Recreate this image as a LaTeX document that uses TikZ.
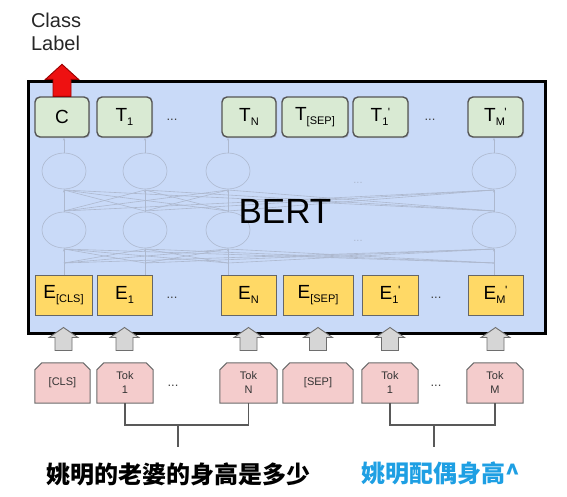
\documentclass[tikz,border=0pt]{standalone}
\usepackage{fontspec}
\setmainfont{Liberation Sans}
\newfontfamily\cjk{Noto Sans CJK SC}
\usetikzlibrary{arrows.meta,shadows,backgrounds}
\definecolor{bertblue}{HTML}{C9DAF8}
\definecolor{tgreen}{HTML}{D9EAD3}
\definecolor{tline}{HTML}{555555}
\definecolor{eyellow}{HTML}{FFD966}
\definecolor{eline}{HTML}{666666}
\definecolor{tokpink}{HTML}{F4CCCC}
\definecolor{tokline}{HTML}{6B6B6B}
\definecolor{netline}{HTML}{ADB8CE}
\definecolor{arrgray}{HTML}{D6D6D6}
\definecolor{arrline}{HTML}{6E6E6E}
\definecolor{arrred}{HTML}{EE1111}
\definecolor{arrredline}{HTML}{9A0000}
\definecolor{qblue}{HTML}{1E9FE3}
\newcommand{\sbx}[1]{\mbox{\fontsize{11}{11}\selectfont #1}}
\newcommand{\lsub}[1]{\raisebox{-4.5pt}{\sbx{#1}}}
\newcommand{\lsubp}[1]{\raisebox{-4.5pt}{\sbx{#1}}\kern-0.5pt\raisebox{5pt}{\mbox{\fontsize{12}{12}\selectfont\textquotesingle}}}
\begin{document}
\begin{tikzpicture}[x=1pt,y=-1pt,
  tbox/.style={draw=tline, fill=tgreen, line width=1.4pt, rounded corners=5pt,
    minimum height=40pt, inner sep=0pt, font=\fontsize{19}{19}\selectfont,
    drop shadow={shadow xshift=1pt, shadow yshift=-1.2pt, opacity=0.3}},
  ebox/.style={draw=eline, fill=eyellow, line width=1pt, minimum height=40pt,
    inner sep=0pt, font=\fontsize{19}{19}\selectfont},
  tok/.style={minimum height=40pt, inner sep=0pt, align=center,
    font=\fontsize{11}{14}\selectfont, text=black!80},
  tokdraw/.style={draw=tokline, fill=tokpink, line width=1pt},
  dots/.style={font=\fontsize{13}{13}\selectfont, text=black!75},
  net/.style={draw=netline, line width=0.6pt},
  bracket/.style={draw=black!65, line width=1.2pt},
  blockup/.pic={\draw[fill=arrgray, draw=arrline, line width=0.9pt]
     (0,0) -- (14.5,10) -- (8.5,10) -- (8.5,23) -- (-8.5,23) -- (-8.5,10) -- (-14.5,10) -- cycle;},
  redup/.pic={\draw[fill=arrred, draw=arrredline, line width=0.9pt]
     (0,0) -- (16.5,15) -- (9,15) -- (9,32) -- (-9,32) -- (-9,15) -- (-16.5,15) -- cycle;}
]
\useasboundingbox (0,0) rectangle (567,496);

% main BERT box
\draw[line width=3pt, fill=bertblue] (28.5,81.5) rectangle (545.5,333.5);

% network (faint)
\foreach \x in {64,145,228,494}{
  \draw[net] (\x,230) ellipse [x radius=22, y radius=18];
  \draw[net] (\x,171) ellipse [x radius=22, y radius=18];
  \draw[net,-{Stealth[length=2.5pt,width=2pt]}] (\x,275) -- (\x,249);
  \draw[net,-{Stealth[length=2.5pt,width=2pt]}] (\x,212) -- (\x,190);
  \draw[net,-{Stealth[length=2.5pt,width=2pt]}] (\x,153) -- (\x,138);
  \foreach \y in {64,145,228,494}{
    \draw[net] (\x,263) -- (\y,249);
    \draw[net] (\x,211) -- (\y,190);
  }
}
\node[font=\fontsize{11}{11}\selectfont, text=netline] (nd1) at (358,183) {...};
\node[font=\fontsize{11}{11}\selectfont, text=netline] (nd2) at (358,241) {...};

\node[font=\fontsize{35}{35}\selectfont] (bert) at (285,211) {BERT};

% output row
\node[tbox, minimum width=54pt] (c)    at (62,117)    {C};
\node[tbox, minimum width=55pt] (t1)   at (124.5,117) {T\lsub{1}};
\node[dots] (td1) at (172,120) {...};
\node[tbox, minimum width=54pt] (tn)   at (249,117)   {T\lsub{N}};
\node[tbox, minimum width=66pt] (tsep) at (315,117)   {T\lsub{[SEP]}};
\node[tbox, minimum width=55pt] (tp1)  at (380.5,117) {T\lsubp{1}};
\node[dots] (td2) at (430,120) {...};
\node[tbox, minimum width=55pt] (tm)   at (495.5,117) {T\lsubp{M}};

% embedding row
\node[ebox, minimum width=57pt] (ecls) at (63.5,295)  {E\lsub{[CLS]}};
\node[ebox, minimum width=55pt] (e1)   at (124.5,295) {E\lsub{1}};
\node[dots] (ed1) at (172,298) {...};
\node[ebox, minimum width=55pt] (en)   at (248.5,295) {E\lsub{N}};
\node[ebox, minimum width=70pt] (esep) at (318,295)   {E\lsub{[SEP]}};
\node[ebox, minimum width=56pt] (ep1)  at (390,295)   {E\lsubp{1}};
\node[dots] (ed2) at (436,298) {...};
\node[ebox, minimum width=55pt] (em)   at (495.5,295) {E\lsubp{M}};

% class label and red arrow
\node[anchor=base west, font=\fontsize{20}{20}\selectfont, text=black!85] (cl1) at (27.5,27) {Class};
\node[anchor=base west, font=\fontsize{20}{20}\selectfont, text=black!85] (cl2) at (27.5,50) {Label};
\pic at ([yshift=32pt]c.north) {redup};

% input tokens
\node[tok, minimum width=55pt] (tcls)  at (62.5,383) {[CLS]};
\node[tok, minimum width=56pt] (tok1)  at (125,383)  {Tok\\1};
\node[dots] (kd1) at (173,386) {...};
\node[tok, minimum width=57pt] (tokn)  at (248.5,383) {Tok\\N};
\node[tok, minimum width=70pt] (tsepk) at (318,383)  {[SEP]};
\node[tok, minimum width=56pt] (tokp1) at (390,383)  {Tok\\1};
\node[dots] (kd2) at (436,386) {...};
\node[tok, minimum width=56pt] (tokm)  at (495,383)  {Tok\\M};
\begin{scope}[on background layer]
\foreach \n in {tcls,tok1,tokn,tsepk,tokp1,tokm}{
  \draw[tokdraw] (\n.south west) -- ([yshift=-7pt]\n.north west) -- ([xshift=7pt]\n.north west)
    -- ([xshift=-7pt]\n.north east) -- ([yshift=-7pt]\n.north east) -- (\n.south east) -- cycle;
}
\end{scope}

% gray block arrows
\foreach \n in {ecls,e1,en,esep,ep1,em}{
  \pic at ([yshift=-12pt]\n.south) {blockup};
}

% brackets
\coordinate (lbar) at (178,425);
\coordinate (lstem) at (178,447);
\coordinate (rbar) at (434,425);
\coordinate (rstem) at (434,447);
\draw[bracket] (tok1.south) |- (lbar) -| (tokn.south);
\draw[bracket] (lbar) -- (lstem);
\draw[bracket] (tokp1.south) |- (rbar) -| (tokm.south);
\draw[bracket] (rbar) -- (rstem);

% questions
\node[anchor=west, inner sep=0pt, font=\cjk\bfseries\fontsize{24}{24}\selectfont] (q1) at (46,474) {姚明的老婆的身高是多少};
\node[anchor=west, inner sep=0pt, font=\cjk\bfseries\fontsize{24}{24}\selectfont, text=qblue] (q2) at (361,473) {姚明配偶身高\^{}};
\end{tikzpicture}
\end{document}
